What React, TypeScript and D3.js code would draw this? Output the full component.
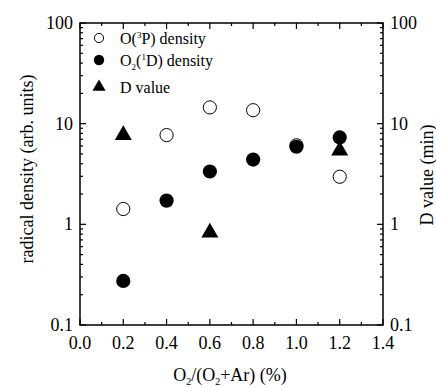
import * as d3 from 'd3'

const xValues = [0.2, 0.4, 0.6, 0.8, 1.0, 1.2]
const o3pDensity = [1.42, 7.7, 14.5, 13.6, 6.1, 2.97]
const o2DensityX = [0.2, 0.4, 0.6, 0.8, 1.0, 1.2]
const o2Density = [0.274, 1.72, 3.35, 4.4, 5.9, 7.3]
const dValueX = [0.2, 0.6, 1.2]
const dValue = [7.7, 0.83, 5.4]

const xTicks = [0, 0.2, 0.4, 0.6, 0.8, 1.0, 1.2, 1.4]
const yTicks = [0.1, 1, 10, 100]

const width = 436
const height = 387
const left = 80
const right = 383
const top = 23
const bottom = 325
const ts = { fontFamily: 'Liberation Serif' }

export default function App() {
    const x = d3.scaleLinear().domain([0, 1.4]).range([left, right])
    const y = d3.scaleLog().domain([0.1, 100]).range([bottom, top])

    const minorX = d3.range(0.1, 1.4, 0.2)
    const minorY: number[] = []
    for (const d of [0.1, 1, 10]) {
        for (let k = 2; k <= 9; k++) minorY.push(d * k)
    }

    const tri = d3.symbol().type(d3.symbolTriangle).size(125)

    return (
        <svg
            width={width}
            height={height}
            style={{ position: 'absolute', left: 0, top: 0, background: 'white' }}
        >
            <rect
                x={left}
                y={top}
                width={right - left}
                height={bottom - top}
                fill="none"
                stroke="#000"
                strokeWidth={1.5}
            />
            {xTicks.map((t) => (
                <g key={'x' + t}>
                    <line x1={x(t)} x2={x(t)} y1={bottom} y2={bottom - 6} stroke="#000" strokeWidth={1.2} />
                    <line x1={x(t)} x2={x(t)} y1={top} y2={top + 6} stroke="#000" strokeWidth={1.2} />
                    <text x={x(t)} y={349} textAnchor="middle" fontSize={18} style={ts}>
                        {t.toFixed(1)}
                    </text>
                </g>
            ))}
            {minorX.map((t) => (
                <g key={'mx' + t}>
                    <line x1={x(t)} x2={x(t)} y1={bottom} y2={bottom - 3} stroke="#000" strokeWidth={1.2} />
                    <line x1={x(t)} x2={x(t)} y1={top} y2={top + 3} stroke="#000" strokeWidth={1.2} />
                </g>
            ))}
            {yTicks.map((t) => (
                <g key={'y' + t}>
                    <line x1={left} x2={left + 6} y1={y(t)} y2={y(t)} stroke="#000" strokeWidth={1.2} />
                    <line x1={right} x2={right - 6} y1={y(t)} y2={y(t)} stroke="#000" strokeWidth={1.2} />
                    <text x={73} y={y(t) + 6} textAnchor="end" fontSize={18} style={ts}>
                        {t}
                    </text>
                    <text x={390} y={y(t) + 6} textAnchor="start" fontSize={18} style={ts}>
                        {t}
                    </text>
                </g>
            ))}
            {minorY.map((t) => (
                <g key={'my' + t}>
                    <line x1={left} x2={left + 3} y1={y(t)} y2={y(t)} stroke="#000" strokeWidth={1.2} />
                    <line x1={right} x2={right - 3} y1={y(t)} y2={y(t)} stroke="#000" strokeWidth={1.2} />
                </g>
            ))}

            {o3pDensity.map((v, i) => (
                <circle
                    key={'o' + i}
                    cx={x(xValues[i])}
                    cy={y(v)}
                    r={6.6}
                    fill="white"
                    stroke="#000"
                    strokeWidth={1}
                />
            ))}
            {o2Density.map((v, i) => (
                <circle key={'f' + i} cx={x(o2DensityX[i])} cy={y(v)} r={7.1} fill="#000" />
            ))}
            {dValue.map((v, i) => (
                <path
                    key={'t' + i}
                    d={tri() ?? undefined}
                    transform={`translate(${x(dValueX[i])},${y(v)})`}
                    fill="#000"
                />
            ))}

            {/* legend */}
            <circle cx={99} cy={38} r={4.6} fill="white" stroke="#000" strokeWidth={1} />
            <text x={120} y={44} fontSize={16} style={ts}>
                O(<tspan dy={-6} fontSize={9}>3</tspan>
                <tspan dy={6}>P) density</tspan>
            </text>
            <circle cx={99} cy={60} r={5.2} fill="#000" />
            <text x={120} y={66} fontSize={16} style={ts}>
                O<tspan dy={4} fontSize={9}>2</tspan>
                <tspan dy={-4}>(</tspan>
                <tspan dy={-6} fontSize={9}>1</tspan>
                <tspan dy={6}>D) density</tspan>
            </text>
            <path d={d3.symbol().type(d3.symbolTriangle).size(75)() ?? undefined} transform="translate(99,87)" fill="#000" />
            <text x={120} y={93} fontSize={16} style={ts}>
                D value
            </text>

            {/* axis titles */}
            <text
                transform="translate(33,169) rotate(-90)"
                textAnchor="middle"
                fontSize={18}
                style={ts}
            >
                radical density (arb. units)
            </text>
            <text
                transform="translate(433,175) rotate(-90)"
                textAnchor="middle"
                fontSize={18}
                style={ts}
            >
                D value (min)
            </text>
            <text x={230} y={381} textAnchor="middle" fontSize={18} style={ts}>
                O<tspan dy={4} fontSize={10}>2</tspan>
                <tspan dy={-4}>/(O</tspan>
                <tspan dy={4} fontSize={10}>2</tspan>
                <tspan dy={-4}>+Ar) (%)</tspan>
            </text>
        </svg>
    )
}
